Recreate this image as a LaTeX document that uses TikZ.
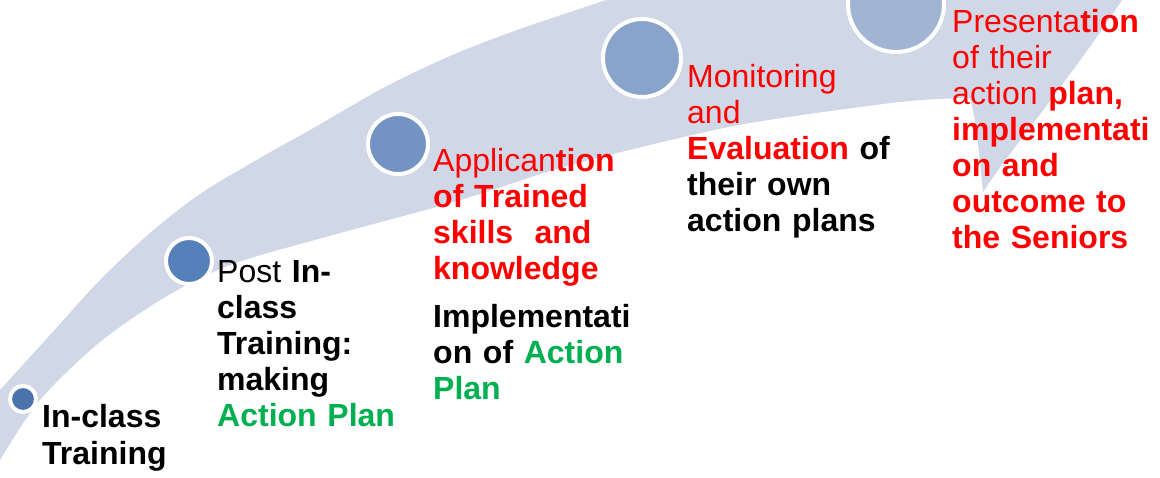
\documentclass[tikz,border=0pt]{standalone}
\usepackage{fontspec}
\setmainfont{Liberation Sans}
\definecolor{band}{HTML}{D0D8E8}
\definecolor{redtext}{HTML}{FF0000}
\definecolor{greentext}{HTML}{00B050}
\definecolor{dotA}{HTML}{4A72AB}
\definecolor{dotB}{HTML}{5680B9}
\definecolor{dotC}{HTML}{7394C2}
\definecolor{dotD}{HTML}{89A4CA}
\definecolor{dotE}{HTML}{A0B4D4}
\tikzset{
  milestone/.style = {draw = white, line width = 4pt},
  caption/.style = {anchor = base west, inner sep = 0pt, text width = 230pt,
    align = left, font = \bfseries\fontsize{32}{36}\selectfont}
}

\begin{document}
\begin{tikzpicture}[x = 1pt, y = -1pt]

      \useasboundingbox (0, 0) rectangle (1160, 478);
      \begin{scope}
        \clip (0, 0) rectangle (1160, 478);
        \fill[band] plot [smooth] coordinates {
          (-20, 412) (0, 390) (50, 335) (100, 280) (150, 233) (200, 194)
          (260, 158) (317, 126) (383, 88) (450, 56) (517, 30) (600, 2) (640, -12)
        } -- (1130, -12) .. controls (1070, 80) and (1010, 150) .. (983, 192)
          .. controls (979, 150) and (976, 120) .. (970, 98)
          -- plot [smooth] coordinates {
          (970, 98) (900, 102) (750, 123) (650, 145) (560, 168) (483, 193)
          (433, 208) (333, 235) (233, 264) (167, 296) (100, 342) (40, 400)
          (0, 460) (-20, 495)
        } -- cycle;
        \foreach \cx/\cy/\r/\c in {23/399/11/dotA, 189/261/21/dotB,
            398/144/28/dotC, 642/58/37/dotD, 896/4/46/dotE}
          \filldraw[milestone, fill = \c] (\cx, \cy) circle (\r pt + 2pt);
      \end{scope}

      \node[caption] (inclass) at (42, 428) {In-class\\ Training};
      \node[caption] (postclass) at (217, 283) {{\mdseries Post} In-\\ class\\ Training:\\ making\\
        \textcolor{greentext}{Action Plan}};
      \node[caption, text = redtext] (apply) at (433, 172) {{\mdseries Applican}tion\\ of Trained\\
        skills~ and\\ knowledge};
      \node[caption] (implement) at (433, 328) {Implementati\\ on of \textcolor{greentext}{Action}\\
        \textcolor{greentext}{Plan}};
      \node[caption, text = redtext] (monitor) at (687, 88) {{\mdseries Monitoring}\\ {\mdseries and}\\
        Evaluation \textcolor{black}{of}\\ \textcolor{black}{their own}\\ \textcolor{black}{action plans}};
      \node[caption, text = redtext] (present) at (952, 33) {{\mdseries Presenta}tion\\ {\mdseries of their}\\
        {\mdseries action} plan,\\ implementati\\ on and\\ outcome to\\ the Seniors};

    \end{tikzpicture}
\end{document}
